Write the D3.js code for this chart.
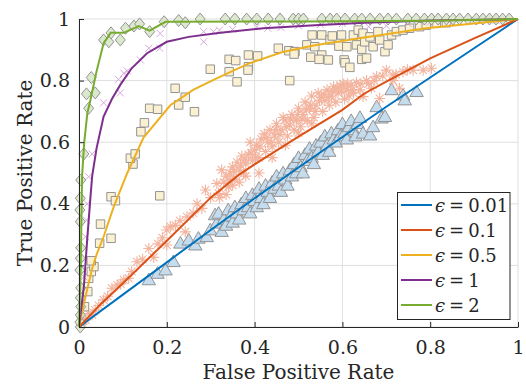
<!DOCTYPE html>
<html><head><meta charset="utf-8">
<script src="https://cdn.jsdelivr.net/npm/d3@7"></script>
<style>
body{margin:0;background:#fff;}
svg{display:block;}
svg text{font-family:"DejaVu Serif";fill:#262626;}
</style></head>
<body>
<script>
// ---------- data ----------
const xTicks = [0, 0.2, 0.4, 0.6, 0.8, 1];
const yTicks = [0, 0.2, 0.4, 0.6, 0.8, 1];
const tickLabels = ["0", "0.2", "0.4", "0.6", "0.8", "1"];
const seriesNames = ["0.01", "0.1", "0.5", "1", "2"];
const lineColors = ["#0072BD", "#D95319", "#EDB120", "#7E2F8E", "#77AC30"];

const curveE001 = [[0,0],[0.1,0.105],[0.2,0.21],[0.3,0.315],[0.4,0.418],[0.5,0.518],[0.6,0.617],[0.7,0.715],[0.8,0.81],[0.9,0.905],[1,1]];
const curveE01 = [[0,0],[0.05,0.075],[0.1,0.142],[0.2,0.28],[0.3,0.42],[0.363,0.493],[0.4,0.528],[0.5,0.618],[0.6,0.705],[0.651,0.759],[0.7,0.797],[0.8,0.872],[0.9,0.937],[1,1]];
const curveE05 = [[0,0],[0.01,0.07],[0.02,0.13],[0.03,0.19],[0.041,0.239],[0.056,0.293],[0.079,0.39],[0.11,0.5],[0.147,0.615],[0.208,0.72],[0.26,0.77],[0.31,0.805],[0.386,0.855],[0.462,0.892],[0.537,0.915],[0.65,0.94],[0.79,0.97],[0.9,0.985],[1,1]];
const curveE1 = [[0,0],[0.011,0.13],[0.019,0.29],[0.026,0.42],[0.03,0.49],[0.04,0.58],[0.056,0.683],[0.075,0.74],[0.094,0.786],[0.12,0.84],[0.155,0.889],[0.2,0.926],[0.25,0.942],[0.322,0.955],[0.42,0.97],[0.537,0.98],[0.65,0.988],[0.8,0.995],[1,1]];
const curveE2 = [[0,0],[0.004,0.2],[0.007,0.49],[0.012,0.6],[0.019,0.694],[0.026,0.737],[0.04,0.83],[0.056,0.921],[0.072,0.955],[0.102,0.955],[0.136,0.977],[0.161,0.962],[0.197,0.991],[0.5,0.992],[0.8,0.994],[1,1]];

const ptsE001 = [[0.159,0.153],[0.179,0.174],[0.197,0.185],[0.215,0.212],[0.231,0.272],[0.25,0.282],[0.265,0.266],[0.272,0.288],[0.291,0.293],[0.299,0.315],[0.314,0.337],[0.31,0.364],[0.318,0.369],[0.325,0.31],[0.33,0.35],[0.335,0.33],[0.34,0.38],[0.345,0.36],[0.35,0.34],[0.355,0.39],[0.36,0.37],[0.365,0.35],[0.37,0.4],[0.375,0.38],[0.38,0.42],[0.385,0.39],[0.39,0.37],[0.395,0.43],[0.4,0.41],[0.405,0.39],[0.41,0.45],[0.415,0.42],[0.42,0.4],[0.425,0.46],[0.43,0.44],[0.435,0.42],[0.44,0.47],[0.445,0.45],[0.45,0.49],[0.455,0.46],[0.46,0.44],[0.465,0.5],[0.47,0.48],[0.475,0.46],[0.48,0.51],[0.485,0.49],[0.49,0.53],[0.495,0.5],[0.5,0.55],[0.505,0.52],[0.51,0.5],[0.515,0.56],[0.52,0.54],[0.525,0.58],[0.53,0.55],[0.535,0.53],[0.54,0.59],[0.545,0.57],[0.55,0.6],[0.555,0.56],[0.56,0.62],[0.565,0.59],[0.57,0.57],[0.575,0.63],[0.58,0.61],[0.585,0.6],[0.59,0.64],[0.595,0.62],[0.6,0.66],[0.605,0.63],[0.61,0.61],[0.615,0.65],[0.62,0.67],[0.625,0.64],[0.63,0.62],[0.635,0.66],[0.64,0.68],[0.647,0.629],[0.663,0.623],[0.67,0.65],[0.678,0.715],[0.689,0.678],[0.697,0.683],[0.712,0.77],[0.738,0.753],[0.742,0.737],[0.769,0.764]];
const ptsE01 = [[0.005,0.008],[0.01,0.02],[0.015,0.023],[0.022,0.044],[0.03,0.04],[0.037,0.055],[0.045,0.07],[0.056,0.088],[0.065,0.1],[0.075,0.126],[0.087,0.136],[0.095,0.14],[0.102,0.153],[0.113,0.158],[0.12,0.18],[0.132,0.212],[0.145,0.22],[0.159,0.255],[0.17,0.226],[0.18,0.27],[0.19,0.29],[0.2,0.315],[0.208,0.326],[0.2,0.266],[0.22,0.33],[0.23,0.345],[0.242,0.309],[0.246,0.358],[0.26,0.37],[0.269,0.4],[0.28,0.385],[0.288,0.445],[0.3,0.42],[0.314,0.466],[0.318,0.434],[0.32,0.42],[0.325,0.51],[0.33,0.47],[0.335,0.43],[0.335,0.49],[0.34,0.455],[0.345,0.5],[0.35,0.46],[0.35,0.52],[0.355,0.48],[0.36,0.535],[0.365,0.47],[0.365,0.51],[0.371,0.555],[0.375,0.5],[0.38,0.49],[0.38,0.53],[0.386,0.56],[0.39,0.6],[0.395,0.54],[0.4,0.575],[0.405,0.59],[0.41,0.55],[0.415,0.61],[0.422,0.627],[0.425,0.57],[0.43,0.6],[0.435,0.64],[0.44,0.585],[0.445,0.62],[0.45,0.66],[0.455,0.6],[0.46,0.64],[0.465,0.68],[0.469,0.672],[0.475,0.62],[0.48,0.655],[0.485,0.69],[0.49,0.64],[0.495,0.67],[0.5,0.71],[0.505,0.65],[0.51,0.69],[0.515,0.73],[0.52,0.67],[0.525,0.71],[0.53,0.75],[0.535,0.68],[0.54,0.72],[0.545,0.76],[0.553,0.746],[0.555,0.7],[0.56,0.735],[0.565,0.77],[0.57,0.72],[0.575,0.75],[0.58,0.78],[0.585,0.73],[0.59,0.76],[0.595,0.785],[0.602,0.789],[0.605,0.74],[0.61,0.77],[0.615,0.75],[0.62,0.785],[0.625,0.76],[0.632,0.793],[0.64,0.77],[0.647,0.748],[0.655,0.8],[0.666,0.775],[0.678,0.813],[0.685,0.742],[0.7,0.834],[0.715,0.818],[0.715,0.8],[0.73,0.775],[0.738,0.829],[0.761,0.834],[0.784,0.834],[0.803,0.84],[0.342,0.475],[0.352,0.505],[0.368,0.525],[0.378,0.545],[0.392,0.565],[0.402,0.55],[0.412,0.585],[0.428,0.615],[0.438,0.6],[0.448,0.64],[0.458,0.625],[0.472,0.65],[0.482,0.675],[0.498,0.69],[0.508,0.675],[0.518,0.705],[0.528,0.72],[0.538,0.7],[0.548,0.735],[0.558,0.755],[0.568,0.745],[0.578,0.765],[0.588,0.775],[0.598,0.765],[0.612,0.79],[0.622,0.77],[0.642,0.79],[0.66,0.79],[0.672,0.8],[0.692,0.815],[0.722,0.82],[0.748,0.835],[0.41,0.5],[0.44,0.55],[0.47,0.59],[0.5,0.63],[0.53,0.66]];
const ptsE05 = [[0.0125,0.066],[0.02,0.115],[0.022,0.158],[0.028,0.18],[0.034,0.196],[0.028,0.215],[0.047,0.272],[0.073,0.288],[0.049,0.334],[0.073,0.423],[0.083,0.41],[0.184,0.426],[0.123,0.529],[0.117,0.548],[0.128,0.562],[0.141,0.634],[0.149,0.663],[0.161,0.71],[0.179,0.707],[0.263,0.699],[0.227,0.721],[0.242,0.746],[0.219,0.775],[0.299,0.837],[0.342,0.869],[0.357,0.865],[0.342,0.829],[0.36,0.796],[0.386,0.883],[0.407,0.88],[0.386,0.845],[0.385,0.834],[0.454,0.905],[0.48,0.8],[0.478,0.897],[0.492,0.894],[0.49,0.886],[0.519,0.916],[0.531,0.948],[0.553,0.948],[0.537,0.91],[0.553,0.883],[0.528,0.876],[0.547,0.869],[0.568,0.867],[0.572,0.932],[0.577,0.945],[0.598,0.948],[0.592,0.912],[0.61,0.91],[0.604,0.867],[0.606,0.858],[0.617,0.843],[0.625,0.948],[0.632,0.916],[0.644,0.902],[0.644,0.869],[0.636,0.964],[0.647,0.954],[0.651,0.926],[0.663,0.942],[0.67,0.91],[0.685,0.932],[0.697,0.894],[0.712,0.948],[0.723,0.959],[0.738,0.964],[0.753,0.97],[0.776,0.975],[0.791,0.98],[0.814,0.986],[0.837,0.988],[0.655,0.873],[0.681,0.959],[0.704,0.916]];
const ptsE1 = [[0.003,0.02],[0.005,0.04],[0.007,0.078],[0.011,0.163],[0.015,0.293],[0.017,0.347],[0.019,0.4],[0.022,0.488],[0.03,0.562],[0.056,0.728],[0.094,0.76],[0.09,0.804],[0.102,0.824],[0.11,0.831],[0.14,0.867],[0.159,0.905],[0.184,0.905],[0.185,0.953],[0.284,0.926],[0.284,0.959],[0.306,0.959],[0.32,0.964],[0.35,0.966],[0.405,0.975],[0.43,0.97],[0.46,0.972],[0.5,0.978],[0.55,0.982],[0.6,0.985],[0.66,0.975],[0.7,0.978],[0.75,0.985],[0.8,0.99],[0.85,0.99],[0.9,0.995],[0.95,0.995]];
const ptsE2 = [[0.003,0.0],[0.002,0.016],[0.003,0.039],[0.004,0.066],[0.003,0.095],[0.004,0.127],[0.002,0.185],[0.003,0.223],[0.004,0.257],[0.003,0.342],[0.002,0.38],[0.003,0.418],[0.004,0.477],[0.011,0.562],[0.022,0.71],[0.017,0.757],[0.037,0.76],[0.028,0.81],[0.056,0.932],[0.068,0.926],[0.073,0.955],[0.094,0.932],[0.106,0.97],[0.125,0.977],[0.138,0.984],[0.161,0.959],[0.194,0.991],[0.227,0.995],[0.242,0.988],[0.276,1.0],[0.333,1],[0.355,1],[0.382,1],[0.405,1],[0.431,1],[0.458,1],[0.488,1],[0.5,1],[0.511,1],[0.553,1],[0.572,1],[0.587,1],[0.606,1],[0.628,1],[0.644,1],[0.663,1],[0.685,1],[0.704,1],[0.723,1],[0.749,1],[0.768,1],[0.787,1],[0.803,1],[0.818,1],[0.837,1],[0.852,1],[0.867,1],[0.886,1],[0.905,1],[0.92,1],[0.935,1],[0.95,1],[0.965,1],[0.98,1]];

// ---------- layout ----------
const W = 526, H = 385;
const x = d3.scaleLinear().domain([0, 1]).range([79, 518]);
const y = d3.scaleLinear().domain([0, 1]).range([327, 19]);
const svg = d3.select("body").append("svg").attr("width", W).attr("height", H);

// grid
const grid = svg.append("g").attr("stroke", "#dfdfdf").attr("stroke-width", 1);
grid.selectAll(".gx").data(xTicks).join("line")
  .attr("x1", d => x(d)).attr("x2", d => x(d)).attr("y1", y(0)).attr("y2", y(1));
grid.selectAll(".gy").data(yTicks).join("line")
  .attr("y1", d => y(d)).attr("y2", d => y(d)).attr("x1", x(0)).attr("x2", x(1));

// markers
const mStroke = "#939393";
const tri = d3.symbol().type(d3.symbolTriangle).size(78);
const sq = d3.symbol().type(d3.symbolSquare).size(72);
svg.append("g").selectAll("path").data(ptsE001).join("path")
  .attr("d", tri).attr("transform", d => `translate(${x(d[0])},${y(d[1]) + 1})`)
  .attr("fill", "#c4dcee").attr("stroke", mStroke).attr("stroke-width", 1);
const ast = svg.append("g").attr("stroke", "#f3b39d").attr("stroke-width", 1.1).attr("fill", "none");
ast.selectAll("path").data(ptsE01).join("path")
  .attr("transform", d => `translate(${x(d[0])},${y(d[1])})`)
  .attr("d", "M-5.5,0H5.5M0,-5.5V5.5M-3.9,-3.9L3.9,3.9M-3.9,3.9L3.9,-3.9");
svg.append("g").selectAll("path").data(ptsE05).join("path")
  .attr("d", sq).attr("transform", d => `translate(${x(d[0])},${y(d[1])})`)
  .attr("fill", "#fbf1d2").attr("stroke", mStroke).attr("stroke-width", 1);
const xs = svg.append("g").attr("stroke", "#d8a8de").attr("stroke-width", 1).attr("fill", "none");
xs.selectAll("path").data(ptsE1).join("path")
  .attr("transform", d => `translate(${x(d[0])},${y(d[1])})`)
  .attr("d", "M-3.5,-3.5L3.5,3.5M-3.5,3.5L3.5,-3.5");
svg.append("g").selectAll("path").data(ptsE2).join("path")
  .attr("transform", d => `translate(${x(d[0])},${y(d[1])})`)
  .attr("d", "M0,-6L5,0L0,6L-5,0Z")
  .attr("fill", "#dde9cf").attr("stroke", mStroke).attr("stroke-width", 1);

// curves
const line = d3.line().x(d => x(d[0])).y(d => y(d[1]));
const curves = [curveE001, curveE01, curveE05, curveE1, curveE2];
svg.append("g").selectAll("path").data(curves).join("path")
  .attr("d", line).attr("fill", "none")
  .attr("stroke", (d, i) => lineColors[i]).attr("stroke-width", 2);

// axes
const fmt = d => tickLabels[xTicks.indexOf(d)];
const xAxis = svg.append("g").attr("transform", `translate(0,${y(0)})`)
  .call(d3.axisBottom(x).tickValues(xTicks).tickFormat(fmt).tickSize(-5).tickSizeOuter(0).tickPadding(14));
const yAxis = svg.append("g").attr("transform", `translate(${x(0)},0)`)
  .call(d3.axisLeft(y).tickValues(yTicks).tickFormat(fmt).tickSize(-5).tickSizeOuter(0).tickPadding(9));
[xAxis, yAxis].forEach(a => {
  a.attr("font-family", "DejaVu Serif").attr("font-size", 19);
  a.select(".domain").attr("stroke", "#262626").attr("stroke-width", 1);
  a.selectAll(".tick line").attr("stroke", "#262626");
  a.selectAll(".tick text").attr("fill", "#262626");
});

svg.append("text").attr("x", 298.5).attr("y", 379).attr("text-anchor", "middle")
  .attr("font-size", 20).text("False Positive Rate");
svg.append("text").attr("transform", "translate(32,173) rotate(-90)").attr("text-anchor", "middle")
  .attr("font-size", 20).text("True Positive Rate");

// legend
const lg = svg.append("g");
lg.append("rect").attr("x", 397.5).attr("y", 192.5).attr("width", 112.5).attr("height", 127)
  .attr("fill", "#fff").attr("stroke", "#262626").attr("stroke-width", 1);
const rows = lg.selectAll("g.row").data(seriesNames).join("g")
  .attr("transform", (d, i) => `translate(0,${205 + i * 25})`);
rows.append("line").attr("x1", 401).attr("x2", 432).attr("y1", 0).attr("y2", 0)
  .attr("stroke", (d, i) => lineColors[i]).attr("stroke-width", 2);
const t = rows.append("text").attr("x", 435).attr("y", 7).attr("font-size", 18);
t.append("tspan").attr("font-style", "italic").text("ϵ");
t.append("tspan").attr("dx", 4).text("=");
t.append("tspan").attr("dx", 4).text(d => d);
</script>
</body></html>
